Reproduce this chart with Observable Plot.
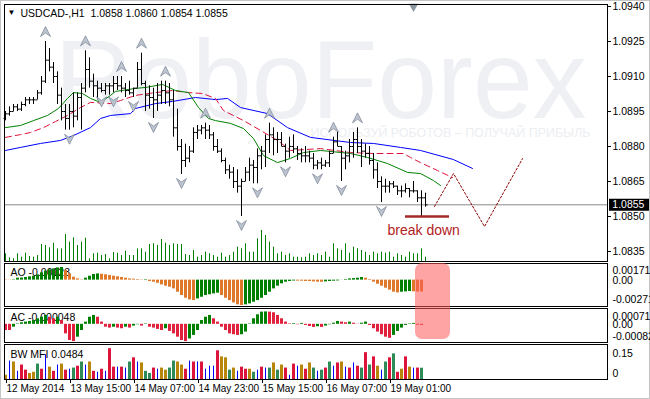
<!DOCTYPE html>
<html><head><meta charset="utf-8">
<script src="https://cdn.jsdelivr.net/npm/d3@7"></script>
<script src="https://cdn.jsdelivr.net/npm/@observablehq/plot@0.6"></script>
<style>
html,body{margin:0;padding:0;background:#fff;}
#chart{position:relative;width:650px;height:399px;overflow:hidden;background:#fff;box-shadow:inset 0 0 0 1px #c4c4c4;}
#chart svg{position:absolute;left:0;}
</style></head><body><div id="chart"></div>
<script>
// ---------- DATA ----------
const symbol = "USDCAD-,H1";
const open  = [1.0892,1.0894,1.0895,1.0897,1.0896,1.0898,1.0900,1.0900,1.0900,1.0903,1.0908,1.0917,1.0914,1.0910,1.0902,1.0895,1.0892,1.0895,1.0893,1.0901,1.0905,1.0913,1.0908,1.0906,1.0905,1.0904,1.0906,1.0906,1.0907,1.0906,1.0905,1.0904,1.0903,1.0905,1.0913,1.0907,1.0902,1.0901,1.0900,1.0902,1.0904,1.0903,1.0900,1.0888,1.0880,1.0874,1.0875,1.0878,1.0886,1.0887,1.0888,1.0887,1.0885,1.0880,1.0878,1.0874,1.0870,1.0869,1.0865,1.0863,1.0865,1.0869,1.0872,1.0871,1.0876,1.0878,1.0883,1.0885,1.0883,1.0883,1.0880,1.0878,1.0880,1.0879,1.0877,1.0876,1.0876,1.0875,1.0872,1.0873,1.0872,1.0873,1.0877,1.0882,1.0880,1.0875,1.0876,1.0880,1.0883,1.0880,1.0878,1.0877,1.0874,1.0870,1.0865,1.0863,1.0863,1.0864,1.0863,1.0861,1.0861,1.0862,1.0861,1.0861,1.0858,1.0858];
const high  = [1.0895,1.0897,1.0898,1.0898,1.0899,1.0901,1.0901,1.0901,1.0904,1.0910,1.0925,1.0922,1.0916,1.0912,1.0905,1.0898,1.0898,1.0903,1.0903,1.0907,1.0921,1.0918,1.0911,1.0908,1.0907,1.0907,1.0907,1.0910,1.0910,1.0910,1.0907,1.0908,1.0905,1.0916,1.0920,1.0908,1.0906,1.0905,1.0907,1.0908,1.0908,1.0907,1.0904,1.0896,1.0883,1.0881,1.0880,1.0888,1.0889,1.0889,1.0890,1.0889,1.0886,1.0883,1.0879,1.0875,1.0872,1.0871,1.0870,1.0866,1.0871,1.0875,1.0874,1.0879,1.0880,1.0885,1.0890,1.0888,1.0886,1.0886,1.0881,1.0884,1.0885,1.0880,1.0879,1.0880,1.0878,1.0877,1.0874,1.0875,1.0874,1.0878,1.0884,1.0886,1.0880,1.0878,1.0883,1.0886,1.0888,1.0883,1.0881,1.0880,1.0877,1.0873,1.0867,1.0866,1.0865,1.0865,1.0863,1.0863,1.0864,1.0862,1.0865,1.0861,1.0861,1.0860];
const low   = [1.0891,1.0893,1.0895,1.0895,1.0895,1.0897,1.0898,1.0898,1.0900,1.0902,1.0907,1.0912,1.0907,1.0898,1.0891,1.0887,1.0887,1.0888,1.0891,1.0887,1.0903,1.0905,1.0901,1.0900,1.0903,1.0902,1.0902,1.0903,1.0904,1.0903,1.0901,1.0902,1.0901,1.0905,1.0906,1.0895,1.0896,1.0892,1.0895,1.0898,1.0898,1.0897,1.0884,1.0878,1.0868,1.0871,1.0873,1.0877,1.0883,1.0885,1.0883,1.0883,1.0878,1.0877,1.0873,1.0868,1.0866,1.0862,1.0860,1.0850,1.0865,1.0865,1.0864,1.0864,1.0870,1.0871,1.0877,1.0876,1.0877,1.0880,1.0873,1.0875,1.0877,1.0874,1.0873,1.0873,1.0873,1.0870,1.0870,1.0870,1.0871,1.0871,1.0877,1.0880,1.0865,1.0870,1.0873,1.0875,1.0877,1.0871,1.0875,1.0872,1.0866,1.0862,1.0856,1.0860,1.0860,1.0862,1.0859,1.0858,1.0860,1.0858,1.0860,1.0856,1.0850,1.0854];
const close = [1.0894,1.0895,1.0897,1.0896,1.0898,1.0900,1.0900,1.0900,1.0903,1.0908,1.0917,1.0914,1.0910,1.0902,1.0895,1.0892,1.0895,1.0893,1.0901,1.0905,1.0913,1.0908,1.0906,1.0905,1.0904,1.0906,1.0906,1.0907,1.0906,1.0905,1.0904,1.0903,1.0905,1.0913,1.0907,1.0902,1.0901,1.0900,1.0902,1.0904,1.0903,1.0900,1.0888,1.0880,1.0874,1.0875,1.0878,1.0886,1.0887,1.0888,1.0887,1.0885,1.0880,1.0878,1.0874,1.0870,1.0869,1.0865,1.0863,1.0865,1.0869,1.0872,1.0871,1.0876,1.0878,1.0883,1.0885,1.0883,1.0883,1.0880,1.0878,1.0880,1.0879,1.0877,1.0876,1.0876,1.0875,1.0872,1.0873,1.0872,1.0873,1.0877,1.0882,1.0880,1.0875,1.0876,1.0880,1.0883,1.0880,1.0878,1.0877,1.0874,1.0870,1.0865,1.0863,1.0863,1.0864,1.0863,1.0861,1.0861,1.0862,1.0861,1.0861,1.0858,1.0858,1.0855];
const volume = [770,370,270,770,430,830,500,430,600,1700,1600,1370,1830,1270,1270,2700,1930,2370,1600,1930,2330,270,770,830,600,700,270,900,830,600,1030,600,600,1270,1270,930,1700,1770,1600,2200,1830,1600,1770,1700,1700,700,600,1100,430,
  600,930,770,600,430,830,430,600,930,1430,1270,1770,930,930,2270,3100,2600,1930,1430,770,930,600,770,430,430,370,430,770,600,770,600,930,430,1770,1270,1100,1770,830,1430,1270,1100,930,600,930,770,930,830,930,430,770,600,430,930,770,770,1270,430];

// Alligator lines (bar index, price)
const jawIdx   = [0,3.75,8.75,13.75,17,21.25,23.75,26.25,31.25,32.5,37.5,41.75,47.5,52.5,55.5,58.75,65.5,70.5,76.25,86.25,92,98.75,103.75,112,116.75];
const jawPrice = [1.08783,1.08796,1.08813,1.08826,1.08847,1.08881,1.0892,1.08933,1.08941,1.08963,1.08984,1.08993,1.0901,1.09001,1.09006,1.08967,1.08941,1.08881,1.08839,1.08817,1.08813,1.08796,1.08783,1.08744,1.08706];
const teethIdx   = [0,3.75,6.25,9.5,12.5,15.5,18.75,21.25,26.25,28.75,32.5,37.5,41.75,45.75,49.25,52.5,54.5,59.5,63.75,68,71.25,78.75,86.25,92,99.5,101.25,103.75,108,111.75];
const teethPrice = [1.08839,1.08851,1.0886,1.08881,1.08907,1.08933,1.08967,1.08989,1.08984,1.08997,1.09019,1.09031,1.0904,1.09031,1.09027,1.09006,1.08954,1.08911,1.08869,1.08826,1.08783,1.08791,1.08774,1.0877,1.0877,1.08753,1.08731,1.08697,1.08667];
const lipsIdx   = [0,3.75,7,10.5,13.25,15.5,17,19.25,21.25,23.75,26.25,27.5,32.5,35,39.25,42.5,45.75,48.25,50.75,52.5,56.25,59.5,62,64.5,68,71.25,74.5,78.75,86.25,90.5,95.5,100.5,103.75,107,108.75];
const lipsPrice = [1.08881,1.0889,1.08911,1.08933,1.08963,1.09006,1.09031,1.09027,1.09006,1.08989,1.09019,1.09036,1.09049,1.09053,1.09066,1.0904,1.09031,1.08967,1.0892,1.08911,1.08899,1.08877,1.08834,1.08761,1.08731,1.08749,1.08774,1.08783,1.0877,1.08753,1.08727,1.08689,1.08684,1.08654,1.08633];

// Fractals (bar indices)
const fractalUpIdx   = [10,20,29,34,40,50,66,82,88];
const fractalDownIdx = [16,24,27,32,37,44,59,63,70,78,84,94];

// Forecast path (dotted) and break-down level
const forecastIdx   = [107.25,112,119.75,129.25];
const forecastPrice = [1.08543,1.08684,1.08457,1.08748];
const breakLevel = 1.0850, breakFrom = 100, breakTo = 111;
const breakLabel = "break down", breakLabelIdx = 95.5, breakLabelPrice = 1.08439;

// Indicators
const ao = [0.00003,0.00002,0.00004,0.00020,0.00022,0.00027,0.00034,0.00040,0.00054,0.00075,0.00092,0.00106,0.00116,0.00126,0.00130,0.00099,0.00064,0.00030,0.00013,0.00003,0.00020,0.00040,0.00058,0.00064,0.00060,0.00055,0.00047,0.00040,0.00034,0.00027,0.00020,0.00013,0.00010,0.00006,0.00003,0.00005,-0.00014,-0.00021,-0.00032,-0.00049,-0.00062,-0.00073,-0.00090,-0.00124,-0.00158,-0.00186,-0.00203,-0.00210,-0.00193,-0.00176,-0.00158,-0.00150,-0.00141,-0.00134,-0.00158,-0.00186,-0.00210,-0.00234,-0.00254,-0.00261,-0.00254,-0.00244,-0.00227,-0.00210,-0.00186,-0.00158,-0.00124,-0.00090,-0.00062,-0.00038,-0.00021,-0.00014,-0.00009,-0.00010,-0.00011,-0.00014,-0.00015,-0.00018,-0.00021,-0.00022,-0.00018,-0.00014,-0.00011,-0.00008,-0.00001,0.00006,0.00013,0.00016,0.00020,0.00027,0.00020,0.00006,-0.00021,-0.00042,-0.00062,-0.00083,-0.00103,-0.00124,-0.00131,-0.00124,-0.00121,-0.00117,-0.00120,-0.00122,-0.00123];
const ac = [-0.00028,-0.00028,-0.00013,0.00002,0.00007,0.00010,0.00013,0.00017,0.00025,0.00032,0.00040,0.00032,0.00025,0.00032,0.00017,-0.00043,-0.00073,-0.00078,-0.00058,-0.00028,0.00010,0.00032,0.00040,0.00032,0.00010,-0.00013,-0.00017,-0.00013,-0.00017,-0.00020,-0.00013,-0.00017,-0.00008,-0.00002,-0.00008,0.00002,-0.00013,-0.00017,-0.00023,-0.00028,-0.00020,-0.00032,-0.00043,-0.00058,-0.00073,-0.00078,-0.00066,-0.00050,-0.00028,0.00017,0.00032,0.00040,0.00025,0.00010,-0.00013,-0.00028,-0.00043,-0.00047,-0.00050,-0.00047,-0.00035,0.00002,0.00025,0.00043,0.00055,0.00056,0.00055,0.00052,0.00040,0.00025,0.00010,0.00002,0.00003,-0.00002,0.00004,-0.00005,-0.00010,-0.00014,-0.00011,-0.00014,-0.00008,-0.00002,0.00005,0.00013,0.00010,0.00007,0.00010,0.00005,0.00001,0.00005,0.00010,-0.00005,-0.00020,-0.00035,-0.00047,-0.00058,-0.00063,-0.00050,-0.00032,-0.00017,-0.00005,0.00002,0.00004,-0.00004,-0.000048];
const mfi = [0.018,0.079,0.075,0.035,0.062,0.040,0.026,0.031,0.066,0.044,0.106,0.053,0.035,0.062,0.066,0.040,0.044,0.049,0.057,0.075,0.062,0.075,0.035,0.031,0.044,0.035,0.132,0.053,0.053,0.053,0.049,0.075,0.093,0.075,0.071,0.035,0.026,0.049,0.044,0.049,0.040,0.049,0.079,0.075,0.062,0.044,0.079,0.075,0.075,0.075,0.044,0.057,0.057,0.123,0.097,0.093,0.040,0.049,0.035,0.053,0.044,0.044,0.031,0.040,0.053,0.049,0.049,0.071,0.040,0.062,0.049,0.018,0.066,0.057,0.062,0.044,0.071,0.049,0.035,0.040,0.049,0.075,0.057,0.071,0.075,0.053,0.049,0.071,0.057,0.049,0.115,0.062,0.097,0.057,0.040,0.075,0.093,0.110,0.031,0.044,0.097,0.053,0.049,0.049,0.0484];
const mfiType = "obobrroogrborbo rbgrgbor brbrrbrbgrbogg rbooggoorbrbrbbbroogo brrogbrbgogorbrbo rogbgrgbrobrbrgrg robgrgrorobrgoo".replace(/ /g,"");

// Axes
const priceTicks = [1.0940,1.0925,1.0910,1.0895,1.0880,1.0865,1.0850,1.0835];
const dateTickIdx = [0,16,32,48,64,80,96];
const dateLabels = ["12 May 2014","13 May 15:00","14 May 07:00","14 May 23:00","15 May 15:00","16 May 07:00","19 May 01:00"];
const aoRange = [-0.00271, 0.00171];
const acRange = [-0.00082, 0.000713];
const mfiRange = [0, 0.15];
const highlightFrom = 102.5, highlightTo = 111.25;
const shiftMarkIdx = 102;

// ---------- BUILD ----------
const FONT = "'Liberation Sans', Arial, sans-serif";
const W = 650, ML = 4, MR = 43;
const xDomain = [-0.25, 150.5];
const bars = open.map((o, i) => ({i, open: o, high: high[i], low: low[i], close: close[i]}));
const vols = volume.map((v, i) => ({i, v}));
const line = (idx, pr) => idx.map((x, k) => ({i: x, p: pr[k]}));
const last = bars[bars.length - 1];
const GREEN = "#008000";
const TL = {frameAnchor: "top-left", lineAnchor: "middle", textAnchor: "start"};

function cfg(h, mt, mb, y, marks) {
  return {width: W, height: h, marginTop: mt, marginBottom: mb, marginLeft: ML, marginRight: MR,
    x: {domain: xDomain, axis: null}, y: {...y, axis: null},
    style: {background: "transparent", fontFamily: FONT, fontSize: "10.5px", color: "#000", overflow: "visible"},
    marks};
}
const upSym = {draw(c, s) { const r = Math.sqrt(s / Math.PI); c.moveTo(0, -r); c.lineTo(r, r); c.lineTo(0, r * 0.3); c.lineTo(-r, r); c.closePath(); }};
const dnSym = {draw(c, s) { const r = Math.sqrt(s / Math.PI); c.moveTo(0, r); c.lineTo(r, -r); c.lineTo(0, -r * 0.3); c.lineTo(-r, -r); c.closePath(); }};

const chart = document.getElementById("chart");
function place(svg, top) { svg.style.top = top + "px"; chart.appendChild(svg); return svg; }

// Volume (behind the price chart)
const volPlot = Plot.plot(cfg(262, 229, 1, {domain: [0, 3200]}, [
  Plot.ruleX(vols, {x: "i", y1: 0, y2: "v", stroke: GREEN})
]));
place(volPlot, 0);

// Main price chart
const priceDomain = [1.083071, 1.094086];
const mainPlot = Plot.plot(cfg(262, 4, 1, {domain: priceDomain}, [
  Plot.text(["RoboForex"], {...TL, dx: 50, dy: 78, fontSize: 112, fill: "#eef0f4", fontFamily: FONT}),
  Plot.text(["ИСПОЛЬЗУЙ РОБОТОВ – ПОЛУЧАЙ ПРИБЫЛЬ"], {...TL, dx: 306, dy: 129, fontSize: 12, fill: "#eceef2", fontFamily: FONT}),
  Plot.ruleY([last.close], {stroke: "#8a8a8a"}),
  Plot.line(line(jawIdx, jawPrice), {x: "i", y: "p", stroke: "#0000ff", strokeWidth: 1}),
  Plot.line(line(teethIdx, teethPrice), {x: "i", y: "p", stroke: "#dc143c", strokeWidth: 1, strokeDasharray: "6,4"}),
  Plot.line(line(lipsIdx, lipsPrice), {x: "i", y: "p", stroke: GREEN, strokeWidth: 1}),
  Plot.line(line(forecastIdx, forecastPrice), {x: "i", y: "p", stroke: "#8b0000", strokeWidth: 1, strokeDasharray: "2,2"}),
  Plot.ruleX(bars, {x: "i", y1: "low", y2: "high", stroke: "#000"}),
  Plot.link(bars, {x1: d => d.i - 0.5, x2: "i", y1: "open", y2: "open", stroke: "#000"}),
  Plot.link(bars, {x1: "i", x2: d => d.i + 0.5, y1: "close", y2: "close", stroke: "#000"}),
  Plot.dot(fractalUpIdx, {x: d => d, y: d => high[d], dy: -10, r: 5, symbol: upSym, fill: "#bcc4d0", stroke: "#7a8494", strokeWidth: 0.7}),
  Plot.dot(fractalDownIdx, {x: d => d, y: d => low[d], dy: 9, r: 5, symbol: dnSym, fill: "#bcc4d0", stroke: "#7a8494", strokeWidth: 0.7}),
  Plot.ruleY([breakLevel], {x1: breakFrom, x2: breakTo, stroke: "#a52a2a", strokeWidth: 2.5}),
  Plot.text([breakLabel], {x: breakLabelIdx, y: breakLabelPrice, textAnchor: "start", fontSize: 14, fill: "#b22222"}),
  Plot.dot([shiftMarkIdx], {x: d => d, frameAnchor: "top", dy: 2, symbol: "triangle", rotate: 180, r: 3.5, fill: "#8c96a2"}),
  Plot.frame({stroke: "#000"}),
  Plot.axisY(priceTicks, {anchor: "right", tickSize: 3, tickPadding: 2, tickFormat: d => d.toFixed(4), label: null}),
  Plot.text(["▼"], {...TL, dx: 3, dy: 8, fontSize: 8}),
  Plot.text([`${symbol}  ${last.open.toFixed(4)} ${last.high.toFixed(4)} ${last.low.toFixed(4)} ${last.close.toFixed(4)}`], {...TL, dx: 16, dy: 9, fontSize: 10.5}),
  Plot.ruleY([last.close], {x1: 151, x2: 161, stroke: "#000", strokeWidth: 12}),
  Plot.text([last.close], {x: 151.7, y: d => d, text: d => d.toFixed(4), textAnchor: "start", fill: "#fff", fontSize: 10.5})
]));
place(mainPlot, 0);
mainPlot.querySelectorAll("text").forEach(t => {
  if (t.textContent === "RoboForex") { t.setAttribute("textLength", 532); t.setAttribute("lengthAdjust", "spacingAndGlyphs"); }
  if (t.textContent.startsWith("ИСПОЛЬЗУЙ")) { t.setAttribute("textLength", 280); t.setAttribute("lengthAdjust", "spacingAndGlyphs"); }
});

// AO
const aoData = ao.map((v, i) => ({i, v, up: i === 0 ? false : v > ao[i - 1]}));
const aoPlot = Plot.plot(cfg(45, 1, 1, {domain: aoRange}, [
  Plot.text([`AO ${ao[ao.length - 1].toFixed(5)}`], {...TL, dx: 6, dy: 9}),
  Plot.ruleX(aoData, {x: "i", y1: 0, y2: "v", stroke: d => d.up ? GREEN : "#e0782a", strokeWidth: 3}),
  Plot.frame({stroke: "#000"}),
  Plot.axisY([aoRange[1]], {anchor: "right", tickSize: 0, tickPadding: 5, dy: 7, tickFormat: d => d.toFixed(5), label: null}),
  Plot.axisY([0], {anchor: "right", tickSize: 0, tickPadding: 5, tickFormat: () => "0.00", label: null}),
  Plot.axisY([aoRange[0]], {anchor: "right", tickSize: 0, tickPadding: 5, dy: -7, tickFormat: d => d.toFixed(5), label: null})
]));
place(aoPlot, 262);

// AC
const acData = ac.map((v, i) => ({i, v, up: i === 0 ? false : v > ac[i - 1]}));
const acPlot = Plot.plot(cfg(36, 1, 1, {domain: acRange}, [
  Plot.text([`AC ${ac[ac.length - 1].toFixed(6)}`], {...TL, dx: 6, dy: 9}),
  Plot.ruleX(acData, {x: "i", y1: 0, y2: "v", stroke: d => d.up ? GREEN : "#e0203c", strokeWidth: 3}),
  Plot.frame({stroke: "#000"}),
  Plot.axisY([acRange[1]], {anchor: "right", tickSize: 0, tickPadding: 5, dy: 8, tickFormat: d => d.toFixed(6), label: null}),
  Plot.axisY([0], {anchor: "right", tickSize: 0, tickPadding: 5, tickFormat: () => "0.00", label: null}),
  Plot.axisY([acRange[0]], {anchor: "right", tickSize: 0, tickPadding: 5, dy: -6, tickFormat: d => d.toFixed(5), label: null})
]));
place(acPlot, 307);

// BW MFI
const mfiColors = {g: "#2e8b57", b: "#0000ff", o: "#b8860b", r: "#dc143c"};
const mfiData = mfi.map((v, i) => ({i, v, t: mfiType[i]}));
const dateMap = new Map(dateTickIdx.map((d, k) => [d, dateLabels[k]]));
const mfiPlot = Plot.plot(cfg(56, 1, 20, {domain: mfiRange}, [
  Plot.text([`BW MFI ${mfi[mfi.length - 1].toFixed(4)}`], {...TL, dx: 6, dy: 10}),
  Plot.ruleX(mfiData.filter(d => d.t !== "b"), {x: "i", y1: 0, y2: "v", stroke: d => mfiColors[d.t], strokeWidth: 3}),
  Plot.ruleX(mfiData.filter(d => d.t === "b"), {x: "i", y1: 0, y2: "v", stroke: mfiColors.b, strokeWidth: 1}),
  Plot.frame({stroke: "#000"}),
  Plot.axisY([mfiRange[1]], {anchor: "right", tickSize: 0, tickPadding: 5, dy: 9, tickFormat: d => String(d), label: null}),
  Plot.axisY([mfiRange[0]], {anchor: "right", tickSize: 0, tickPadding: 5, dy: -6, tickFormat: () => "0", label: null}),
  Plot.axisX(dateTickIdx, {anchor: "bottom", tickSize: 4, tickPadding: 1, textAnchor: "start", dx: 1, fontSize: 10, tickFormat: d => dateMap.get(d), label: null})
]));
place(mfiPlot, 343);

// Highlight box over AO/AC (positioned through the shared x scale and the panels' y scales)
const sx = aoPlot.scale("x");
const boxTop = 262 + aoPlot.scale("y").apply(aoRange[1]);
const boxBottom = 307 + acPlot.scale("y").apply(acRange[0]) - 3;
const box = document.createElement("div");
const bx0 = sx.apply(highlightFrom), bx1 = sx.apply(highlightTo);
Object.assign(box.style, {position: "absolute", left: bx0 + "px", top: boxTop + "px", width: (bx1 - bx0) + "px", height: (boxBottom - boxTop) + "px",
  background: "rgba(255,90,90,0.55)", borderRadius: "7px"});
chart.appendChild(box);
</script></body></html>
